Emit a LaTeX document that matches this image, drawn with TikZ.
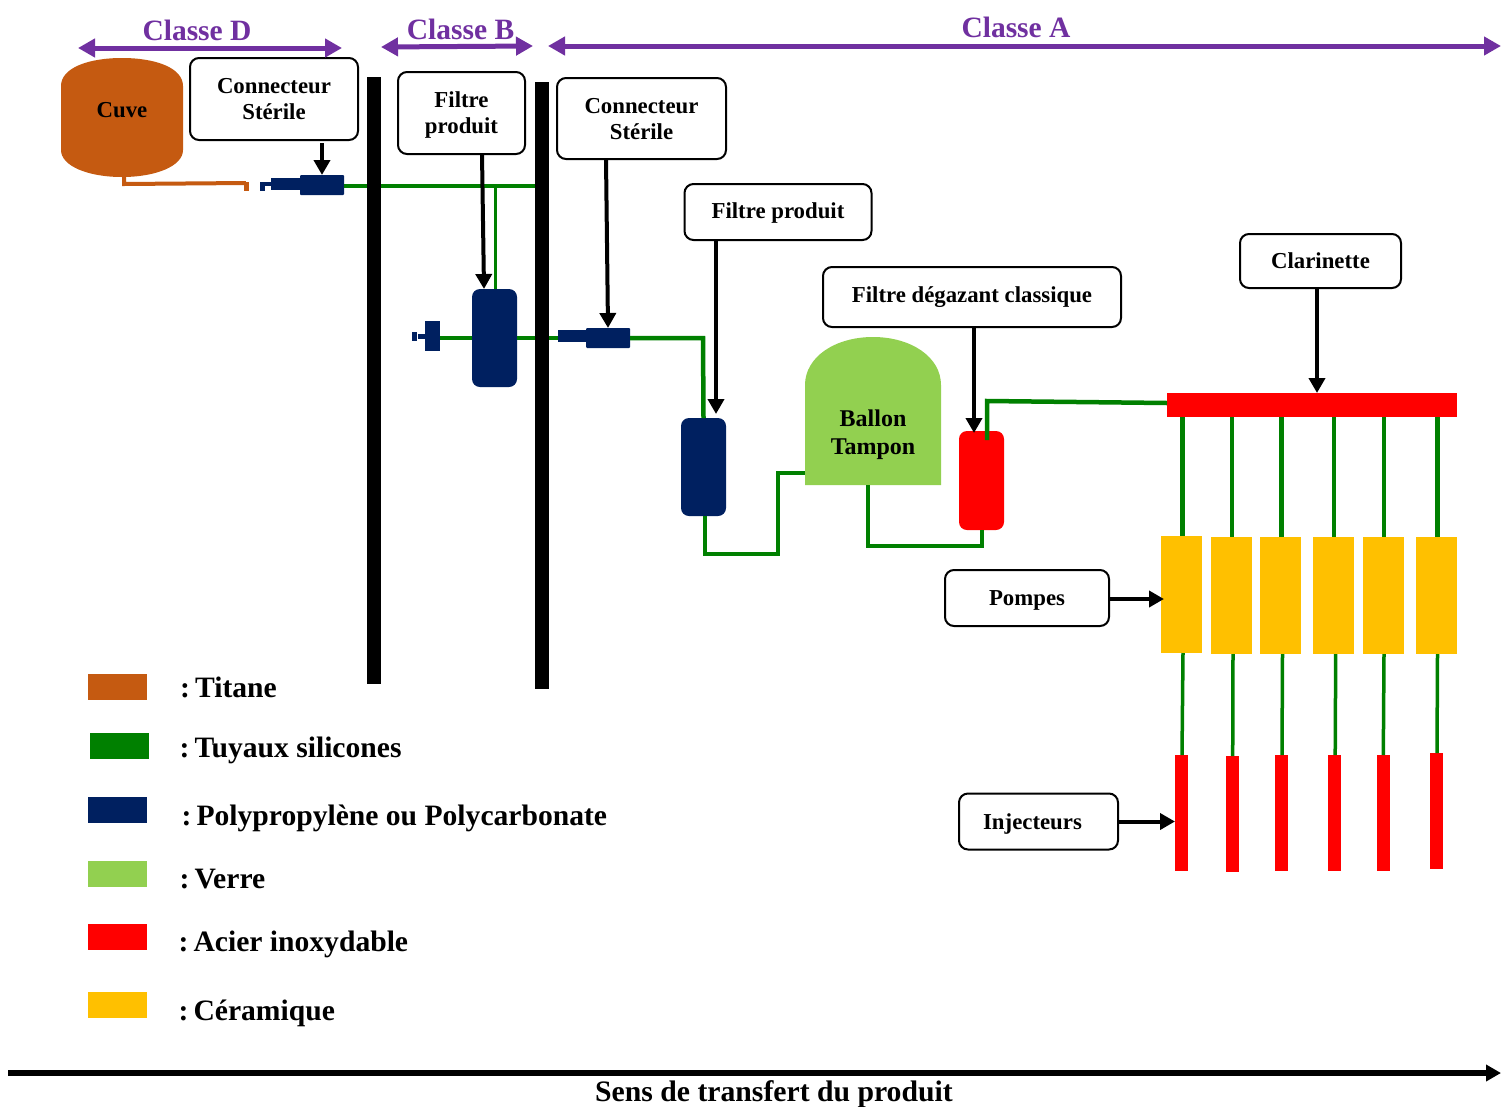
\documentclass[tikz,border=0pt]{standalone}
\usepackage{fontspec}
\setmainfont{Liberation Serif}
\usetikzlibrary{arrows.meta}
\definecolor{titane}{HTML}{C55A11}
\definecolor{silicone}{HTML}{008000}
\definecolor{polyp}{HTML}{002060}
\definecolor{verre}{HTML}{92D050}
\definecolor{inox}{HTML}{FF0000}
\definecolor{ceram}{HTML}{FFC000}
\definecolor{classe}{HTML}{7030A0}
\tikzset{
  boite/.style={draw=black,line width=2pt,fill=white,rounded corners=9pt,inner sep=0pt,outer sep=0pt,align=center,text depth=0pt,font=\fontsize{22.8}{26}\selectfont\bfseries},
  piece/.style={inner sep=0pt,outer sep=0pt,minimum width=#1},
  filtre/.style={inner sep=0pt,outer sep=0pt,rounded corners=8pt,minimum width=45pt,minimum height=98pt},
  tuyau/.style={draw=silicone,line width=4.5pt},
  tuyaufin/.style={draw=silicone,line width=3.5pt},
  fleche/.style={draw=black,line width=4pt,-{Triangle[length=15pt,width=16pt]}},
  classefl/.style={draw=classe,line width=5pt,{Triangle[length=17pt,width=18pt]}-{Triangle[length=17pt,width=18pt]}},
  titre/.style={text=classe,font=\fontsize{29.5}{32}\selectfont\bfseries},
  legende/.style={anchor=base west,inner sep=0pt,font=\fontsize{29.6}{32}\selectfont\bfseries}
}
\begin{document}
\begin{tikzpicture}[x=1pt,y=-1pt]
\useasboundingbox (0,0) rectangle (1501,1106);
% Cuve et ballon
\fill[titane] (61,86) .. controls (61,68) and (88,58) .. (122,58) .. controls (156,58) and (183,68) .. (183,86) -- (183,150) .. controls (183,166) and (156,177) .. (122,177) .. controls (88,177) and (61,166) .. (61,150) -- cycle;
\node[font=\fontsize{22.8}{26}\selectfont\bfseries,inner sep=0pt] (cuve) at (122,110) {Cuve};
\fill[verre] (805,385) .. controls (805,357) and (835,337) .. (873,337) .. controls (911,337) and (941,357) .. (941,385) -- (941,485) -- (805,485) -- cycle;
\node[font=\fontsize{24}{28}\selectfont\bfseries,inner sep=0pt,align=center] (ballon) at (873,435) {Ballon\\Tampon};
\coordinate (ballong) at (805,473);
\coordinate (ballonb) at (868,485);
% Connecteurs et filtres
\node[piece=44pt,minimum height=20pt,fill=polyp,rounded corners=1pt] (conn1) at (322,185) {};
\node[piece=29pt,minimum height=12pt,fill=polyp] (fut1) at (285.5,184) {};
\node[piece=9pt,minimum height=4pt,fill=polyp] (tige1) at (266.5,184) {};
\node[piece=5pt,minimum height=9pt,fill=polyp] (bout1) at (262.5,186.5) {};
\node[piece=15pt,minimum height=30pt,fill=polyp] (conn3) at (432.5,336) {};
\node[piece=7pt,minimum height=5pt,fill=polyp] (tige3) at (421.5,336.5) {};
\node[piece=5pt,minimum height=9pt,fill=polyp] (bout3) at (414.5,336.5) {};
\node[piece=44pt,minimum height=20pt,fill=polyp,rounded corners=1pt] (conn2) at (608,338) {};
\node[piece=28pt,minimum height=12pt,fill=polyp] (fut2) at (572,336) {};
\node[filtre,fill=polyp] (f1) at (494.5,338) {};
\node[filtre,fill=polyp] (f2) at (703.5,467) {};
\node[filtre,fill=inox,minimum height=99pt] (f3) at (981.5,480.5) {};
% Clarinette, pompes, injecteurs
\node[piece=290pt,minimum height=24pt,fill=inox] (clar) at (1312,405) {};
\node[piece=41pt,minimum height=117pt,fill=ceram] (p1) at (1181.5,594.5) {};
\node[piece=41pt,minimum height=117pt,fill=ceram] (p2) at (1231,595.5) {};
\node[piece=41pt,minimum height=117pt,fill=ceram] (p3) at (1280.5,595.5) {};
\node[piece=41pt,minimum height=117pt,fill=ceram] (p4) at (1333,595.5) {};
\node[piece=41pt,minimum height=117pt,fill=ceram] (p5) at (1383,595.5) {};
\node[piece=41pt,minimum height=117pt,fill=ceram] (p6) at (1436.5,595.5) {};
\node[piece=13pt,minimum height=116pt,fill=inox] (i1) at (1181.5,813) {};
\node[piece=13pt,minimum height=116pt,fill=inox] (i2) at (1232,814) {};
\node[piece=13pt,minimum height=116pt,fill=inox] (i3) at (1281,813) {};
\node[piece=13pt,minimum height=116pt,fill=inox] (i4) at (1334.5,813) {};
\node[piece=13pt,minimum height=116pt,fill=inox] (i5) at (1383,813) {};
\node[piece=13pt,minimum height=116pt,fill=inox] (i6) at (1436,811) {};
% Tuyaux
\coordinate (c0) at (124,177);
\coordinate (c1) at (124,184);
\coordinate (c2) at (246,183);
\draw[draw=titane,line width=4pt] (c0) -- (c1) -- (c2);
\node[piece=5pt,minimum height=9pt,fill=titane] (bout0) at (246.5,186.5) {};
\coordinate (j1) at (540,186);
\coordinate (j2) at (703,338);
\coordinate (j3) at (495,186);
\coordinate (j4) at (705,554);
\coordinate (j5) at (778,554);
\coordinate (j6) at (778,473);
\coordinate (j7) at (868,546);
\coordinate (j8) at (982,546);
\coordinate (j9) at (987,401);
\coordinate (j10) at (987,440);
\coordinate (j11) at (1167,403);
\draw[tuyau] (conn1.east |- j1) -- (j1);
\draw[draw=silicone,line width=3pt] (j3) -- (f1.north -| j3);
\draw[tuyau] (conn3.east |- f1) -- (f1.west);
\draw[tuyau] (f1.east) -- (fut2.west |- f1.east);
\draw[tuyau] (conn2.east |- j2) -- (j2) -- (f2.north);
\draw[tuyau] (f2.south -| j4) -- (j4) -- (j5) -- (j6) -- (ballong);
\draw[tuyau] (ballonb) -- (j7) -- (j8) -- (f3.south -| j8);
\draw[tuyau] (j10) -- (j9) -- (j11);
\draw[tuyau] (clar.south -| p1.north) ++(1,0) -- ([xshift=1pt]p1.north);
\draw[tuyau] (clar.south -| p2.north) ++(1,0) -- ([xshift=1pt]p2.north);
\draw[tuyau] (clar.south -| p3.north) ++(1,0) -- ([xshift=1pt]p3.north);
\draw[tuyau] (clar.south -| p4.north) ++(1,0) -- ([xshift=1pt]p4.north);
\draw[tuyau] (clar.south -| p5.north) ++(1,0) -- ([xshift=1pt]p5.north);
\draw[tuyau] (clar.south -| p6.north) ++(1,0) -- ([xshift=1pt]p6.north);
\draw[tuyaufin] ([xshift=1.5pt]p1.south) -- ([xshift=0.5pt]i1.north);
\draw[tuyaufin] ([xshift=2pt]p2.south) -- ([xshift=0.7pt]i2.north);
\draw[tuyaufin] ([xshift=2pt]p3.south) -- ([xshift=1pt]i3.north);
\draw[tuyaufin] ([xshift=2.7pt]p4.south) -- ([xshift=0.7pt]i4.north);
\draw[tuyaufin] ([xshift=1pt]p5.south) -- ([xshift=0.3pt]i5.north);
\draw[tuyaufin] ([xshift=1pt]p6.south) -- ([xshift=1pt]i6.north);
% Cloisons
\node[piece=14pt,minimum height=607pt,fill=black] (mur1) at (374,380.5) {};
\node[piece=14pt,minimum height=607pt,fill=black] (mur2) at (542,385.5) {};
% Etiquettes
\node[boite,minimum width=168pt,minimum height=82pt] (lcs1) at (274,99) {Connecteur\\Stérile};
\node[boite,minimum width=127pt,minimum height=82pt,yshift=0pt] (lfp1) at (461.5,113) {Filtre\\produit};
\node[boite,minimum width=169pt,minimum height=81pt] (lcs2) at (641.5,118.5) {Connecteur\\Stérile};
\node[boite,minimum width=187pt,minimum height=56pt,text depth=2pt] (lfp2) at (778,212) {Filtre produit};
\node[boite,minimum width=298pt,minimum height=60pt,text depth=4pt] (lfd) at (972,297) {Filtre dégazant classique};
\node[boite,minimum width=161pt,minimum height=54pt] (lclar) at (1320.5,261) {Clarinette};
\node[boite,minimum width=164pt,minimum height=56pt] (lpom) at (1027,598) {Pompes};
\node[boite,minimum width=159pt,minimum height=56pt] (linj) at (1038.5,821.5) {Injecteurs\hspace*{12pt}};
\coordinate (kc) at (1317,393);
\coordinate (kp) at (1164,599);
\draw[fleche] ([yshift=-3pt]lcs1.south -| conn1.north) -- (conn1.north);
\draw[fleche] ([xshift=20.5pt]lfp1.south) -- ([xshift=-10.5pt]f1.north);
\draw[fleche] ([xshift=-35.5pt]lcs2.south) -- (conn2.north);
\draw[fleche] ([xshift=-62pt]lfp2.south) -- ([xshift=12.5pt,yshift=4pt]f2.north);
\draw[fleche] ([xshift=2pt]lfd.south) -- ([xshift=-7.5pt,yshift=-2pt]f3.north);
\draw[fleche] (lclar.south -| kc) -- (kc);
\draw[fleche] (lpom.east |- kp) -- (kp);
\draw[fleche] (linj.east) -- (linj.east -| i1.west);
% Classes
\coordinate (dg) at (78,48);
\coordinate (dd) at (342,48);
\coordinate (bg) at (381,47);
\coordinate (bd) at (533,46);
\coordinate (ag) at (548,46);
\coordinate (ad) at (1501,46);
\draw[classefl] (dg) -- (dd);
\draw[classefl] (bg) -- (bd);
\draw[classefl] (ag) -- (ad);
\node[titre] (cld) at (197,30) {Classe D};
\node[titre] (clb) at (460.5,29) {Classe B};
\node[titre] (cla) at (1016,27) {Classe A};
% Legende
\node[piece=59pt,minimum height=26pt,fill=titane] (l1) at (117.5,687) {};
\node[piece=59pt,minimum height=26pt,fill=silicone] (l2) at (119.5,746) {};
\node[piece=59pt,minimum height=26pt,fill=polyp] (l3) at (117.5,810) {};
\node[piece=59pt,minimum height=26pt,fill=verre] (l4) at (117.5,873.5) {};
\node[piece=59pt,minimum height=26pt,fill=inox] (l5) at (117.5,937) {};
\node[piece=59pt,minimum height=26pt,fill=ceram] (l6) at (117.5,1005) {};
\node[legende] (t1) at (180,697) {:\hspace{5pt}Titane};
\node[legende] (t2) at (179.5,757) {:\hspace{5pt}Tuyaux silicones};
\node[legende] (t3) at (181.5,825) {:\hspace{5pt}Polypropylène ou Polycarbonate};
\node[legende] (t4) at (179.5,888) {:\hspace{5pt}Verre};
\node[legende] (t5) at (178.5,951) {:\hspace{5pt}Acier inoxydable};
\node[legende] (t6) at (178.5,1020) {:\hspace{5pt}Céramique};
% Sens
\coordinate (sg) at (8,1073);
\coordinate (sd) at (1501,1073);
\draw[draw=black,line width=6pt,-{Triangle[length=15pt,width=16pt]}] (sg) -- (sd);
\node[font=\fontsize{29.7}{32}\selectfont\bfseries,inner sep=0pt] (sens) at (774,1094) {Sens de transfert du produit};
\end{tikzpicture}
\end{document}
